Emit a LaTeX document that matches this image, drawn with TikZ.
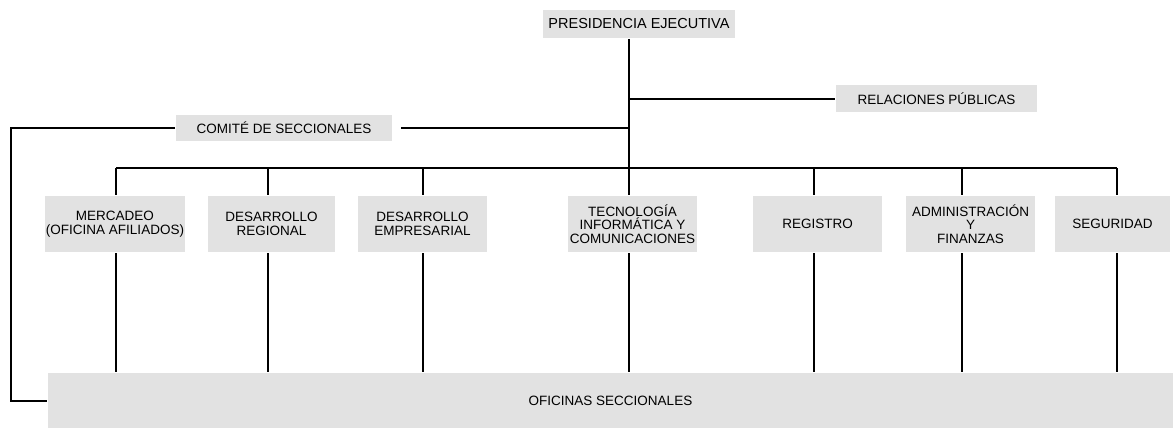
\documentclass[tikz,border=0pt]{standalone}
\usepackage{fontspec}
\setmainfont{Liberation Sans}
\definecolor{boxgray}{RGB}{226,226,226}
\tikzset{unit/.style={fill=boxgray, inner sep=0pt, align=center,
    font=\fontsize{13.5}{13.5}\selectfont}}

\begin{document}
\begin{tikzpicture}[x=1pt,y=-1pt,line width=2pt]
    \useasboundingbox (0,0) rectangle (1173,428);
    \node[unit, minimum width=192pt, minimum height=28pt, font=\fontsize{14.5}{15}\selectfont] (pres) at (639,24) {PRESIDENCIA EJECUTIVA};
    \node[unit, minimum width=201pt, minimum height=27pt] (rel) at (936.5,98.5) {RELACIONES PÚBLICAS};
    \node[unit, minimum width=216pt, minimum height=26pt] (com) at (284,128) {COMITÉ DE SECCIONALES};
    \node[unit, minimum width=1125pt, minimum height=55pt] (ofi) at (610.5,400.5) {OFICINAS SECCIONALES};
    \coordinate (spine) at (629,168);
    \foreach \n/\x/\w/\s/\t in {mer/115/140/1/{MERCADEO\\(OFICINA AFILIADOS)},
        reg/271.5/127/-3.5/{DESARROLLO\\REGIONAL},
        emp/422.5/129/0.5/{DESARROLLO\\EMPRESARIAL},
        tec/632.5/129/-3.5/{TECNOLOGÍA\\INFORMÁTICA Y\\COMUNICACIONES},
        rgs/817.5/129/-3.5/REGISTRO,
        adm/970.5/129/-8.5/{ADMINISTRACIÓN\\Y\\FINANZAS},
        seg/1112.5/115/4.5/SEGURIDAD}
    {
    \node[unit, minimum width=\w pt, minimum height=56pt] (\n) at (\x,224) {\t};
    \draw ([xshift=\s pt]\n.north |- spine) -- ([xshift=\s pt]\n.north);
    \draw ([xshift=\s pt]\n.south) -- ([xshift=\s pt]\n.south |- ofi.north);
    }
    \draw (spine |- pres.south) -- (spine);
    \draw (spine |- rel.west) -- (rel.west);
    \draw ([xshift=8pt]com.east) -- (spine |- com.east);
    \draw (com.west) -| (11,400.5) -- (ofi.west);
    \draw ([xshift=1pt]mer.north |- spine) -- ([xshift=4.5pt]seg.north |- spine);
\end{tikzpicture}
\end{document}
